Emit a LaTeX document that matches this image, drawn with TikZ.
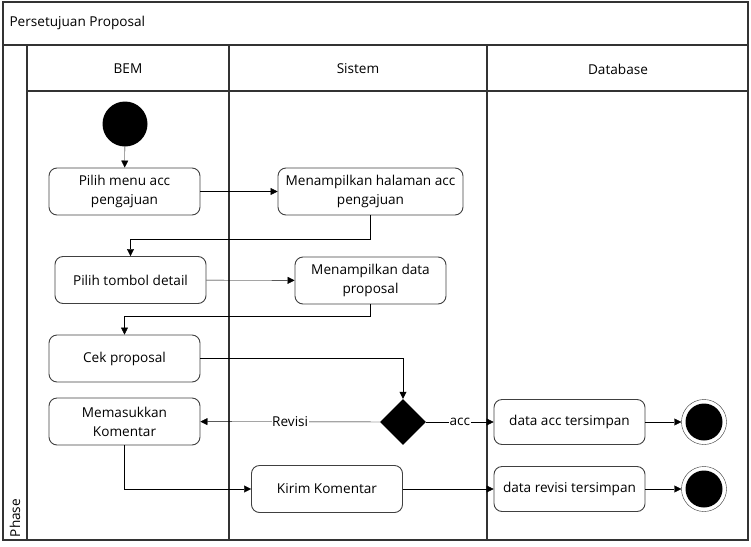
\documentclass[tikz,border=0pt]{standalone}
\usepackage{fontspec}
\setmainfont{Open Sans}
\usetikzlibrary{arrows.meta,shapes.geometric}

\begin{document}
\begin{tikzpicture}[x=1pt,y=-1pt,
    lane/.style={draw=black!80, line width=1.1pt},
    txt/.style={font=\fontsize{13.6}{19}\selectfont},
    act/.style={txt, draw=black!75, line width=0.9pt, rounded corners=8pt, minimum width=151pt,
        minimum height=47pt, align=center, inner sep=2pt},
    flow/.style={draw=black, -{Triangle[length=7pt,width=7pt]}},
    guard/.style={txt, fill=white, inner sep=0.5pt},
    startnode/.style={circle, fill=black, minimum size=45pt, inner sep=0pt},
    endnode/.style={circle, draw=black!80, minimum size=45pt, inner sep=0pt,
        path picture={\fill (path picture bounding box.center) circle (18.5pt);}},
    choice/.style={diamond, fill=black, minimum width=46pt, minimum height=46pt, inner sep=0pt}]
\useasboundingbox (0,0) rectangle (751,546);

% Swimlane frame
\draw[lane] (3,2) rectangle (748,540);
\draw[lane] (3,45) -- (748,45);
\draw[lane] (27,45) -- (27,540);
\draw[lane] (27,91) -- (748,91);
\foreach \x in {229, 487} {
    \draw[lane] (\x,45) -- (\x,540);
}

% Lane titles
\node[txt, anchor=west] (title) at (6,23) {Persetujuan Proposal};
\foreach \x/\lbl [count=\i] in {128/BEM, 358/Sistem, 618/Database} {
    \node[txt] (head\i) at (\x,69) {\lbl};
}
\node[txt, rotate=90] (phase) at (15,518) {Phase};

% Activities
\node[startnode] (start) at (125,124) {};
\node[act] (menu) at (124.5,191.5) {Pilih menu acc\\pengajuan};
\node[act, minimum width=185pt] (halaman) at (370.5,191.5) {Menampilkan halaman acc\\pengajuan};
\node[act] (detail) at (130.5,280) {Pilih tombol detail};
\node[act] (dataprop) at (370.5,280.5) {Menampilkan data\\proposal};
\node[act] (cek) at (124.5,358.5) {Cek proposal};
\node[act] (komentar) at (124.5,421.5) {Memasukkan\\Komentar};
\node[choice] (cabang) at (403,422) {};
\node[act] (kirim) at (327,489) {Kirim Komentar};
\node[act, minimum height=45pt] (simpanacc) at (569.5,422) {data acc tersimpan};
\node[act, minimum height=45pt] (simpanrev) at (569.5,489) {data revisi tersimpan};
\node[endnode] (akhir1) at (704,422) {};
\node[endnode] (akhir2) at (704,489) {};

% Flows
\draw[flow] (start) -- (menu);
\draw[flow] (menu) -- (halaman);
\draw[flow] (halaman.south) -- ++(0,24) -| (detail.north);
\draw[flow] (detail) -- (dataprop);
\draw[flow] (dataprop.south) -- ++(0,12) -| (cek.north);
\draw[flow] (cek) -| (cabang.north);
\draw[flow] (cabang) -- node[guard] {Revisi} (komentar);
\draw[flow] (cabang) -- node[guard] {acc} (simpanacc);
\draw[flow] (komentar.south) |- (kirim.west);
\draw[flow] (kirim) -- (simpanrev);
\draw[flow] (simpanacc) -- (akhir1);
\draw[flow] (simpanrev) -- (akhir2);
\end{tikzpicture}
\end{document}
